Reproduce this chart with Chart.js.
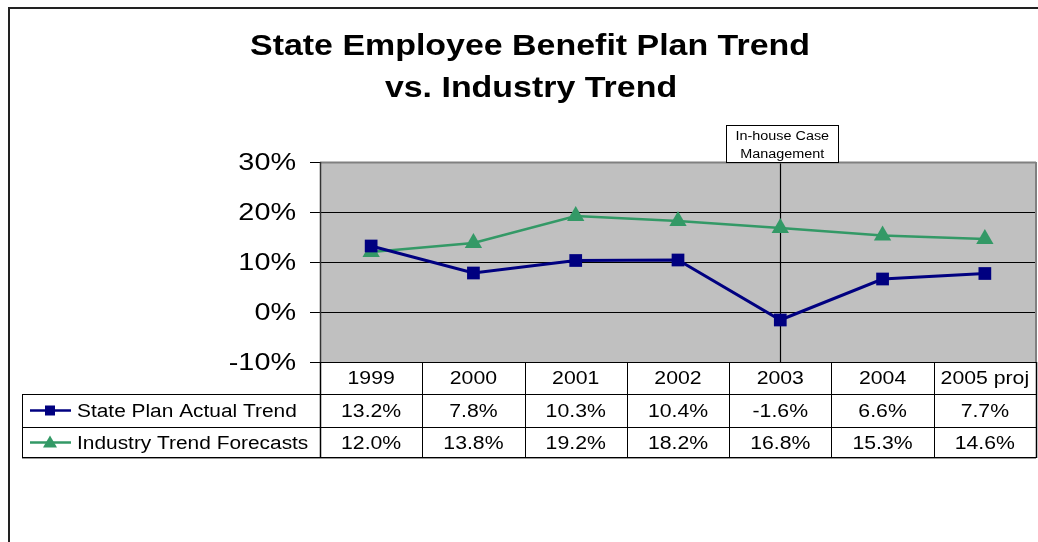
<!DOCTYPE html>
<html>
<head>
<meta charset="utf-8">
<script src="https://cdn.jsdelivr.net/npm/chart.js@4"></script>
<style>
  body { margin:0; background:#fff; overflow:hidden; }
  #wrap { width:1038px; height:542px; position:relative; }
</style>
</head>
<body>
<div id="wrap"><canvas id="trendChart"></canvas></div>
<script>
// Data
const years = ["1999","2000","2001","2002","2003","2004","2005 proj"];
const stateActual = [13.2, 7.8, 10.3, 10.4, -1.6, 6.6, 7.7];
const industryForecast = [12.0, 13.8, 19.2, 18.2, 16.8, 15.3, 14.6];
const seriesNames = ["State Plan Actual Trend", "Industry Trend Forecasts"];
const titleLines = ["State Employee Benefit Plan Trend", "vs. Industry Trend"];
const noteLines = ["In-house Case", "Management"];
const noteYear = "2003";

const NAVY = '#000080', GREEN = '#339966';
const FONT = "'Liberation Sans', Arial, sans-serif";
const PLOT_RIGHT = 1036;

// text is slightly wide in the original, stretch it
function txt(ctx, s, x, y, font, align, sx){
  ctx.save();
  ctx.font = font;
  ctx.textAlign = align || 'center';
  ctx.textBaseline = 'middle';
  ctx.fillStyle = '#000';
  ctx.translate(x, y);
  ctx.scale(sx || 1.2, 1);
  ctx.fillText(s, 0, 0);
  ctx.restore();
}
function line(ctx, x1, y1, x2, y2, color, w){
  ctx.save();
  ctx.strokeStyle = color; ctx.lineWidth = w || 1;
  ctx.beginPath(); ctx.moveTo(x1, y1); ctx.lineTo(x2, y2); ctx.stroke();
  ctx.restore();
}

const decor = {
  id:'decor',
  beforeDraw(chart){
    const {ctx, chartArea:a} = chart;
    ctx.save();
    ctx.fillStyle = '#C0C0C0';
    ctx.fillRect(a.left, a.top, a.right - a.left, a.bottom - a.top);
    ctx.restore();
  },
  beforeDatasetsDraw(chart){
    const {ctx, chartArea:a, scales:{x}} = chart;
    const nx = Math.round(x.getPixelForValue(years.indexOf(noteYear))) + 0.5;
    line(ctx, nx, a.top - 1, nx, a.bottom, '#000', 1.2);
  },
  afterDraw(chart){
    const {ctx, chartArea:a, scales:{x, y}} = chart;
    // outer frame
    line(ctx, 8, 8, 1038, 8, '#222', 2);
    line(ctx, 9, 8, 9, 542, '#222', 2);

    // title
    txt(ctx, titleLines[0], 530, 47, "bold 29px " + FONT, 'center', 1.17);
    txt(ctx, titleLines[1], 531, 89, "bold 29px " + FONT, 'center', 1.17);

    // plot border
    line(ctx, a.left, a.top + 0.5, a.right, a.top + 0.5, '#808080', 2);
    line(ctx, a.right, a.top, a.right, a.bottom, '#808080', 2);
    line(ctx, a.left + 0.5, a.top, a.left + 0.5, a.bottom, '#333', 1.5);

    // y tick labels
    y.ticks.forEach(t => {
      txt(ctx, t.value + '%', 296, y.getPixelForValue(t.value) + 1.5, "24px " + FONT, 'right', 1.2);
    });

    // note box
    const nx = x.getPixelForValue(years.indexOf(noteYear));
    const bx = 726, bw = 112, by = 125, bh = a.top - by;
    ctx.save();
    ctx.fillStyle = '#fff'; ctx.fillRect(bx, by, bw, bh);
    ctx.strokeStyle = '#000'; ctx.lineWidth = 1;
    ctx.strokeRect(bx + 0.5, by + 0.5, bw, bh);
    ctx.restore();
    txt(ctx, noteLines[0], nx + 2, by + 12, "12px " + FONT, 'center', 1.2);
    txt(ctx, noteLines[1], nx + 2, by + 30, "12px " + FONT, 'center', 1.2);

    // data table
    const band = (a.right - a.left) / years.length;
    const r0 = a.bottom, r1 = 394, r2 = 427, r3 = 458, tl = 22;
    line(ctx, tl, r1 + 0.5, a.right, r1 + 0.5, '#000', 1);
    line(ctx, tl, r2 + 0.5, a.right, r2 + 0.5, '#000', 1);
    line(ctx, tl, r3 - 0.5, a.right, r3 - 0.5, '#000', 1);
    line(ctx, tl, r3 + 0.5, a.right, r3 + 0.5, '#999', 1);
    line(ctx, tl + 0.5, r1, tl + 0.5, r3, '#000', 1);
    for (let k = 0; k <= years.length; k++) {
      const bxk = Math.round(a.left + k * band) + 0.5;
      line(ctx, bxk, r0, bxk, r3, '#000', k === 0 || k === years.length ? 1.5 : 1);
    }
    years.forEach((yr, i) => {
      const cx = x.getPixelForValue(i);
      txt(ctx, yr, cx, (r0 + r1) / 2 + 1.5, "18px " + FONT, 'center', 1.18);
      txt(ctx, stateActual[i].toFixed(1) + '%', cx, (r1 + r2) / 2 + 1.5, "18px " + FONT, 'center', 1.18);
      txt(ctx, industryForecast[i].toFixed(1) + '%', cx, (r2 + r3) / 2 + 1.5, "18px " + FONT, 'center', 1.18);
    });

    // legend keys
    const k1 = (r1 + r2) / 2, k2 = (r2 + r3) / 2;
    line(ctx, 30, k1, 71, k1, NAVY, 2.5);
    ctx.save();
    ctx.fillStyle = NAVY; ctx.fillRect(45, k1 - 5, 10, 10);
    line(ctx, 30, k2, 71, k2, GREEN, 2.5);
    ctx.fillStyle = GREEN;
    ctx.beginPath(); ctx.moveTo(50, k2 - 7); ctx.lineTo(57, k2 + 5); ctx.lineTo(43, k2 + 5); ctx.closePath(); ctx.fill();
    ctx.restore();
    txt(ctx, seriesNames[0], 77, k1 + 1.5, "18px " + FONT, 'left', 1.16);
    txt(ctx, seriesNames[1], 77, k2 + 1.5, "18px " + FONT, 'left', 1.16);
  }
};

new Chart(document.getElementById('trendChart'), {
  type:'line',
  data:{
    labels:years,
    datasets:[
      {label:seriesNames[0], data:stateActual, borderColor:NAVY, backgroundColor:NAVY,
       borderWidth:3, pointStyle:'rect', pointRadius:9, pointBorderWidth:0, tension:0},
      {label:seriesNames[1], data:industryForecast, borderColor:GREEN, backgroundColor:GREEN,
       borderWidth:2.5, pointStyle:'triangle', pointRadius:10, pointBorderWidth:0, tension:0}
    ]
  },
  options:{
    responsive:true,
    maintainAspectRatio:false,
    animation:false,
    layout:{padding:{left:0, top:162, right:0, bottom:180}},
    plugins:{legend:{display:false}, title:{display:false}, tooltip:{enabled:false}},
    scales:{
      x:{offset:true, grid:{display:false}, border:{display:false}, ticks:{display:false},
         afterFit:s => { s.height = 0; s.paddingRight = 0; s.paddingLeft = 0; }},
      y:{min:-10, max:30, ticks:{stepSize:10, display:false},
         grid:{color:'#000', lineWidth:1, drawTicks:true, tickLength:10},
         border:{display:false},
         afterFit:s => { s.width = 320; }}
    }
  },
  plugins:[decor, {
    id:'rightEdge',
    // pin plot right edge to the reference position
    afterLayout(chart){
      const a = chart.chartArea;
      if (a.right !== PLOT_RIGHT) {
        a.right = PLOT_RIGHT;
        a.width = a.right - a.left;
        ['x','y'].forEach(id => {
          const s = chart.scales[id];
          if (id === 'x') { s.right = PLOT_RIGHT; s.width = s.right - s.left; }
          s.configure();
        });
      }
    }
  }]
});
</script>
</body>
</html>
